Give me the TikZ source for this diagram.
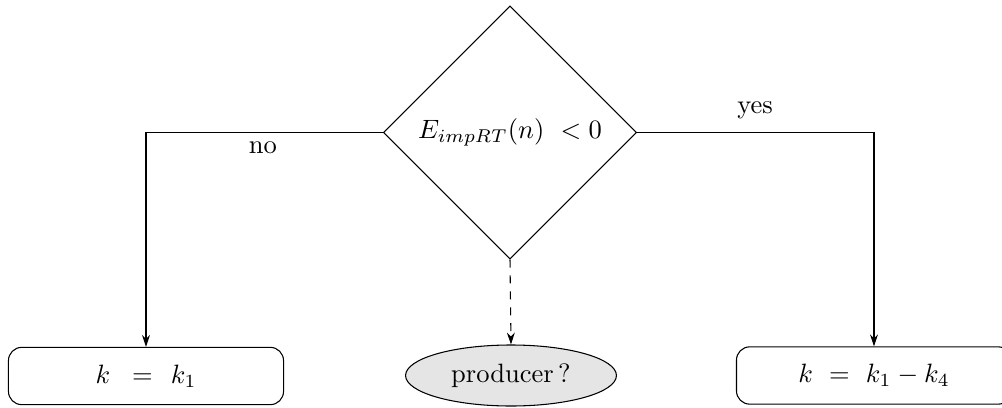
\documentclass[tikz,border=0pt]{standalone}
\usetikzlibrary{shapes.geometric,arrows.meta}
\begin{document}
\begin{tikzpicture}[x=0.377pt,y=-0.377pt,
  decision/.style={draw, diamond, aspect=1, inner sep=0pt, minimum width=95.4pt, minimum height=95.4pt},
  result/.style={draw, rounded corners=5pt, minimum width=103.7pt, minimum height=21.6pt, inner sep=0pt},
  question/.style={draw, ellipse, fill=gray!20, minimum width=79.5pt, minimum height=23pt, inner sep=0pt},
  conn/.style={-{Stealth[length=4.5pt,width=3pt]}},
  lbl/.style={inner sep=0pt}]
\useasboundingbox (0,0) rectangle (1002,408);
\node[decision] (d) at (510,132.5) {$E_{impRT}(n)\ < 0$};
\node[result] (l) at (146,376) {$k\hspace{5.5pt}=\hspace{4pt}k_1$};
\node[result] (r) at (874,375.5) {$k\ =\ k_1-k_4$};
\node[question] (p) at (511,375.5) {producer\,?};
\draw[conn] (d.west) -| (l.north);
\draw[conn] (d.east) -| (r.north);
\draw[conn, dashed] (d.south) -- (p.north);
\node[lbl] (no) at (263,148) {no};
\node[lbl] (yes) at (755,110) {yes};
\end{tikzpicture}
\end{document}
